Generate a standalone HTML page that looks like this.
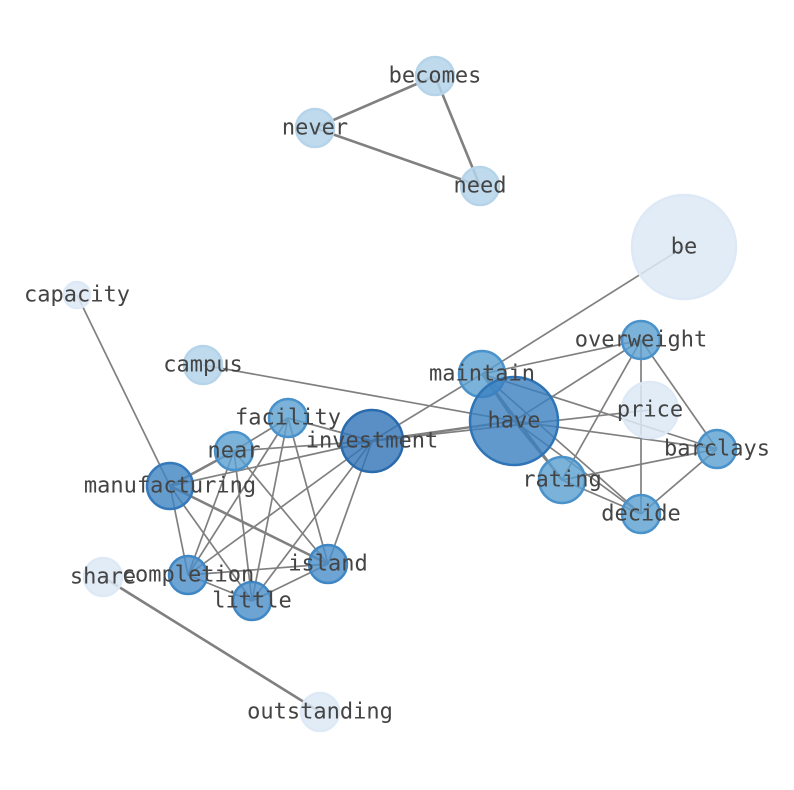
<!DOCTYPE html>
<html><head><meta charset="utf-8"><style>html,body{margin:0;padding:0;background:#fff}svg{display:block}</style></head>
<body>
<svg width="794" height="790" xmlns="http://www.w3.org/2000/svg">
<g stroke="#808080" stroke-width="1.7" fill="none">
<line x1="435" y1="76" x2="315" y2="128" stroke-width="2.6"/>
<line x1="435" y1="76" x2="480" y2="186" stroke-width="2.6"/>
<line x1="315" y1="128" x2="480" y2="186" stroke-width="2.6"/>
<line x1="103" y1="577" x2="320" y2="712" stroke-width="2.6"/>
<line x1="684" y1="247" x2="482" y2="374"/>
<line x1="77" y1="295" x2="170" y2="486"/>
<line x1="203" y1="365" x2="514" y2="421"/>
<line x1="482" y1="374" x2="641" y2="340"/>
<line x1="482" y1="374" x2="514" y2="421"/>
<line x1="482" y1="374" x2="562" y2="480" stroke-width="2.6"/>
<line x1="482" y1="374" x2="641" y2="514"/>
<line x1="482" y1="374" x2="717" y2="449"/>
<line x1="482" y1="374" x2="372" y2="441"/>
<line x1="514" y1="421" x2="641" y2="340"/>
<line x1="514" y1="421" x2="717" y2="449"/>
<line x1="514" y1="421" x2="641" y2="514"/>
<line x1="514" y1="421" x2="562" y2="480"/>
<line x1="372" y1="441" x2="514" y2="421" stroke-width="2.4"/>
<line x1="372" y1="441" x2="650" y2="410"/>
<line x1="641" y1="340" x2="562" y2="480"/>
<line x1="641" y1="340" x2="641" y2="514"/>
<line x1="641" y1="340" x2="717" y2="449"/>
<line x1="562" y1="480" x2="717" y2="449"/>
<line x1="562" y1="480" x2="641" y2="514"/>
<line x1="717" y1="449" x2="641" y2="514"/>
<line x1="170" y1="486" x2="234" y2="451" stroke-width="2.6"/>
<line x1="170" y1="486" x2="372" y2="441"/>
<line x1="170" y1="486" x2="328" y2="564" stroke-width="2.6"/>
<line x1="170" y1="486" x2="188" y2="575"/>
<line x1="170" y1="486" x2="252" y2="601"/>
<line x1="234" y1="451" x2="288" y2="418"/>
<line x1="234" y1="451" x2="372" y2="441"/>
<line x1="234" y1="451" x2="188" y2="575"/>
<line x1="234" y1="451" x2="252" y2="601"/>
<line x1="234" y1="451" x2="328" y2="564"/>
<line x1="288" y1="418" x2="372" y2="441"/>
<line x1="288" y1="418" x2="188" y2="575"/>
<line x1="288" y1="418" x2="252" y2="601"/>
<line x1="288" y1="418" x2="328" y2="564"/>
<line x1="372" y1="441" x2="188" y2="575"/>
<line x1="372" y1="441" x2="252" y2="601"/>
<line x1="372" y1="441" x2="328" y2="564"/>
<line x1="188" y1="575" x2="328" y2="564"/>
<line x1="188" y1="575" x2="252" y2="601"/>
<line x1="252" y1="601" x2="328" y2="564"/>
</g>
<g stroke-width="2.5">
<circle cx="435" cy="76" r="19" fill="#b5d4ea" fill-opacity="0.85" stroke="#b5d4ea"/>
<circle cx="315" cy="128" r="19" fill="#b5d4ea" fill-opacity="0.85" stroke="#b5d4ea"/>
<circle cx="480" cy="186" r="19" fill="#b5d4ea" fill-opacity="0.85" stroke="#b5d4ea"/>
<circle cx="684" cy="247" r="52" fill="#dde9f6" fill-opacity="0.85" stroke="#dde9f6"/>
<circle cx="77" cy="295" r="13" fill="#dde9f6" fill-opacity="0.85" stroke="#dde9f6"/>
<circle cx="203" cy="365" r="19" fill="#b5d4ea" fill-opacity="0.85" stroke="#b5d4ea"/>
<circle cx="103" cy="577" r="19" fill="#dde9f6" fill-opacity="0.85" stroke="#dde9f6"/>
<circle cx="320" cy="712" r="19" fill="#dde9f6" fill-opacity="0.85" stroke="#dde9f6"/>
<circle cx="650" cy="410" r="28" fill="#dde9f6" fill-opacity="0.85" stroke="#dde9f6"/>
<circle cx="641" cy="340" r="19" fill="#5a9fd0" fill-opacity="0.8" stroke="#4a92cb"/>
<circle cx="482" cy="374" r="23" fill="#5a9fd0" fill-opacity="0.8" stroke="#4a92cb"/>
<circle cx="514" cy="421" r="44" fill="#3a7fc0" fill-opacity="0.8" stroke="#2f74b6"/>
<circle cx="717" cy="449" r="19" fill="#5a9fd0" fill-opacity="0.8" stroke="#4a92cb"/>
<circle cx="562" cy="480" r="23" fill="#5a9fd0" fill-opacity="0.8" stroke="#4a92cb"/>
<circle cx="641" cy="514" r="19" fill="#5a9fd0" fill-opacity="0.8" stroke="#4a92cb"/>
<circle cx="288" cy="418" r="19" fill="#5a9fd0" fill-opacity="0.8" stroke="#4a92cb"/>
<circle cx="234" cy="451" r="19" fill="#5a9fd0" fill-opacity="0.8" stroke="#4a92cb"/>
<circle cx="372" cy="441" r="31" fill="#2f73b5" fill-opacity="0.8" stroke="#2a6bad"/>
<circle cx="170" cy="486" r="23" fill="#3f83c2" fill-opacity="0.8" stroke="#3579ba"/>
<circle cx="188" cy="575" r="19" fill="#4a8dc8" fill-opacity="0.8" stroke="#4088c5"/>
<circle cx="328" cy="564" r="19" fill="#4a8dc8" fill-opacity="0.8" stroke="#4088c5"/>
<circle cx="252" cy="601" r="19" fill="#4a8dc8" fill-opacity="0.8" stroke="#4088c5"/>
</g>
<g font-family="'DejaVu Sans Mono','Liberation Mono',monospace" font-size="22" fill="#444" text-anchor="middle" dominant-baseline="central">
<text x="435" y="76">becomes</text>
<text x="315" y="128">never</text>
<text x="480" y="186">need</text>
<text x="684" y="247">be</text>
<text x="77" y="295">capacity</text>
<text x="203" y="365">campus</text>
<text x="641" y="340">overweight</text>
<text x="482" y="374">maintain</text>
<text x="650" y="410">price</text>
<text x="514" y="421">have</text>
<text x="717" y="449">barclays</text>
<text x="562" y="480">rating</text>
<text x="641" y="514">decide</text>
<text x="288" y="418">facility</text>
<text x="234" y="451">near</text>
<text x="372" y="441">investment</text>
<text x="170" y="486">manufacturing</text>
<text x="188" y="575">completion</text>
<text x="328" y="564">island</text>
<text x="252" y="601">little</text>
<text x="103" y="577">share</text>
<text x="320" y="712">outstanding</text>
</g>
</svg>
</body></html>
